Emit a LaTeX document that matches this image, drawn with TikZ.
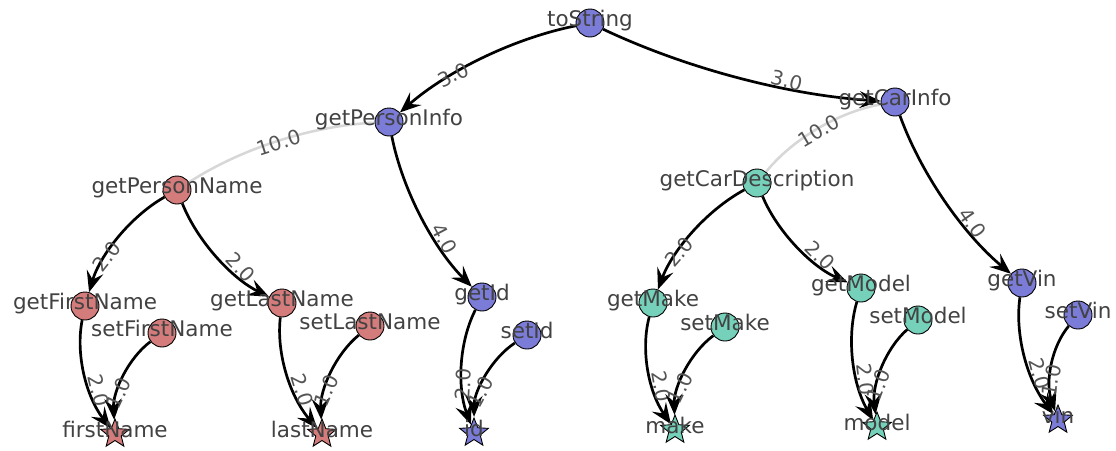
\documentclass[tikz,border=0pt]{standalone}
\usepackage{fontspec}
\setmainfont{DejaVu Sans}
\usetikzlibrary{arrows.meta,calc,shapes.geometric,backgrounds}
\definecolor{nblue}{RGB}{123,123,216}
\definecolor{nred}{RGB}{212,123,123}
\definecolor{nteal}{RGB}{118,209,186}
\definecolor{lbl}{RGB}{66,66,66}
\definecolor{elbl}{RGB}{85,85,85}
\definecolor{lightedge}{RGB}{215,215,215}
\tikzset{
  vert/.style={circle, draw=black, line width=0.9pt, minimum size=28pt, inner sep=0pt},
  fld/.style={star, star points=5, star point ratio=2.3, draw=black, line width=0.9pt, minimum size=30pt, inner sep=0pt},
  vlabel/.style={text=lbl, font=\fontsize{21.5}{21.5}\selectfont, inner sep=0pt, text height=0.93em, text depth=0.24em},
  elabel/.style={text=elbl, font=\fontsize{20}{20}\selectfont, inner sep=0pt, sloped, text height=0.93em, text depth=0.24em},
  dedge/.style={draw=black, line width=2.7pt, -{Stealth[length=21pt,width=17pt,inset=8pt]}},
  uedge/.style={draw=lightedge, line width=2.5pt},
}
\newcommand\curvedlink[5]{%
  \draw[#1] (#2) .. controls ($(#2.center)!0.3333!(#3.center)!20pt!-90:(#3.center)$) and ($(#2.center)!0.6667!(#3.center)!20pt!-90:(#3.center)$) .. (#3);
  \path ($(#2.center)!10pt!-90:(#3.center)$) -- node[elabel, pos=#5] {#4} ($(#3.center)!10pt!90:(#2.center)$);
}
\begin{document}
\begin{tikzpicture}[x=1pt,y=1pt]
\useasboundingbox (0,0) rectangle (1116,-450);
% vertices
\node[vert, fill=nblue, label={[vlabel]center:toString}] (toString) at (590,-23) {};
\node[vert, fill=nblue, label={[vlabel]center:getPersonInfo}] (getPersonInfo) at (389,-122) {};
\node[vert, fill=nblue, label={[vlabel]center:getCarInfo}] (getCarInfo) at (895,-102) {};
\node[vert, fill=nred, label={[vlabel]center:getPersonName}] (getPersonName) at (177,-190) {};
\node[vert, fill=nteal, label={[vlabel]center:getCarDescription}] (getCarDescription) at (757,-183) {};
\node[vert, fill=nred, label={[vlabel]center:getFirstName}] (getFirstName) at (85,-306) {};
\node[vert, fill=nred, label={[vlabel]center:setFirstName}] (setFirstName) at (162,-333) {};
\node[fld, fill=nred, label={[vlabel]center:firstName}] (firstName) at (115,-434) {};
\node[vert, fill=nred, label={[vlabel]center:getLastName}] (getLastName) at (282,-303) {};
\node[vert, fill=nred, label={[vlabel]center:setLastName}] (setLastName) at (370,-326) {};
\node[fld, fill=nred, label={[vlabel]center:lastName}] (lastName) at (322,-434) {};
\node[vert, fill=nblue, label={[vlabel]center:getId}] (getId) at (482,-297) {};
\node[vert, fill=nblue, label={[vlabel]center:setId}] (setId) at (527,-335) {};
\node[fld, fill=nblue, label={[vlabel]center:id}] (id) at (474,-433) {};
\node[vert, fill=nteal, label={[vlabel]center:getMake}] (getMake) at (653,-303) {};
\node[vert, fill=nteal, label={[vlabel]center:setMake}] (setMake) at (725,-327) {};
\node[fld, fill=nteal, label={[vlabel]center:make}] (make) at (675,-430) {};
\node[vert, fill=nteal, label={[vlabel]center:getModel}] (getModel) at (861,-288) {};
\node[vert, fill=nteal, label={[vlabel]center:setModel}] (setModel) at (918,-320) {};
\node[fld, fill=nteal, label={[vlabel]center:model}] (model) at (877,-427) {};
\node[vert, fill=nblue, label={[vlabel]center:getVin}] (getVin) at (1022,-283) {};
\node[vert, fill=nblue, label={[vlabel]center:setVin}] (setVin) at (1078,-315) {};
\node[fld, fill=nblue, label={[vlabel]center:vin}] (vin) at (1058,-420) {};
% edges
\begin{pgfonlayer}{background}
\fill[white] (0,0) rectangle (1116,-450);
\curvedlink{dedge}{toString}{getPersonInfo}{3.0}{0.65}
\curvedlink{dedge}{toString}{getCarInfo}{3.0}{0.65}
\curvedlink{uedge}{getPersonInfo}{getPersonName}{10.0}{0.5}
\curvedlink{uedge}{getCarInfo}{getCarDescription}{10.0}{0.5}
\curvedlink{dedge}{getPersonInfo}{getId}{4.0}{0.65}
\curvedlink{dedge}{getCarInfo}{getVin}{4.0}{0.65}
\curvedlink{dedge}{getPersonName}{getFirstName}{2.0}{0.65}
\curvedlink{dedge}{getPersonName}{getLastName}{2.0}{0.65}
\curvedlink{dedge}{getCarDescription}{getMake}{2.0}{0.65}
\curvedlink{dedge}{getCarDescription}{getModel}{2.0}{0.65}
\curvedlink{dedge}{getFirstName}{firstName}{2.0}{0.65}
\curvedlink{dedge}{setFirstName}{firstName}{1.0}{0.65}
\curvedlink{dedge}{getLastName}{lastName}{2.0}{0.65}
\curvedlink{dedge}{setLastName}{lastName}{1.0}{0.65}
\curvedlink{dedge}{getId}{id}{2.0}{0.65}
\curvedlink{dedge}{setId}{id}{1.0}{0.65}
\curvedlink{dedge}{getMake}{make}{2.0}{0.65}
\curvedlink{dedge}{setMake}{make}{1.0}{0.65}
\curvedlink{dedge}{getModel}{model}{2.0}{0.65}
\curvedlink{dedge}{setModel}{model}{1.0}{0.65}
\curvedlink{dedge}{getVin}{vin}{2.0}{0.65}
\curvedlink{dedge}{setVin}{vin}{1.0}{0.65}
\end{pgfonlayer}
\end{tikzpicture}
\end{document}
